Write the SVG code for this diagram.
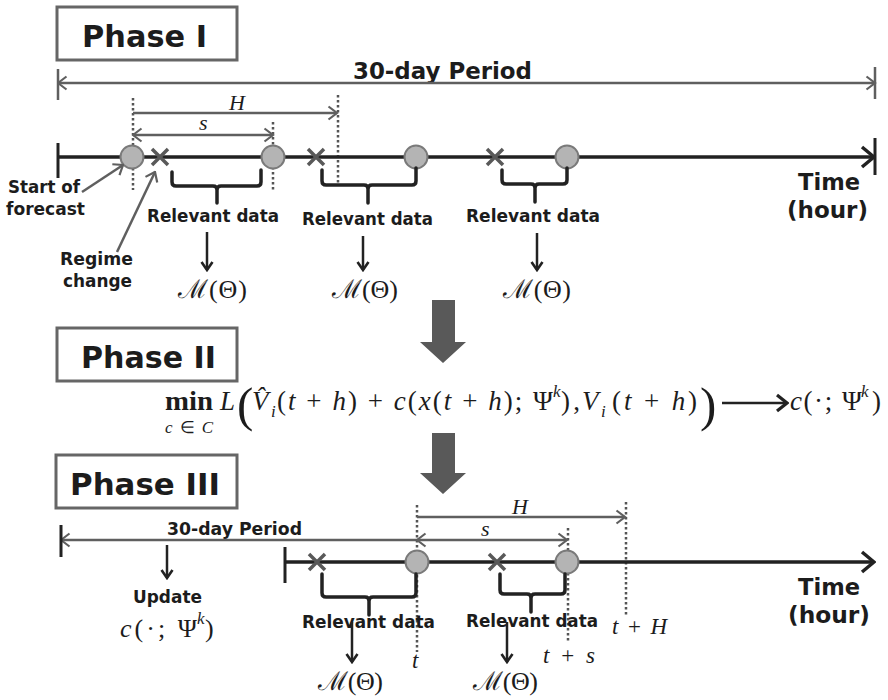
<svg xmlns="http://www.w3.org/2000/svg" width="888" height="700" viewBox="0 0 888 700">
<style>
.b{font-family:"DejaVu Sans",Verdana,sans-serif;font-weight:bold;fill:#1c1c1c}
.m{font-family:"Liberation Serif","Times New Roman",serif;fill:#1c1c1c}
.i{font-style:italic}
.box{fill:#fff;stroke:#666;stroke-width:3}
.gl{stroke:#5f5f5f;stroke-width:2.5;fill:none}
.dot{stroke:#555;stroke-width:2.5;stroke-dasharray:2.5 2.5;fill:none}
.ax{stroke:#222;stroke-width:3.5;fill:none}
.tk{stroke:#222;stroke-width:3;fill:none}
.xm{stroke:#595959;stroke-width:3.5;fill:none}
.cir{fill:#b4b4b4;stroke:#7a7a7a;stroke-width:2}
.br{stroke:#222;stroke-width:3.5;fill:none;stroke-linejoin:round;stroke-linecap:round}
.da{stroke:#222;stroke-width:2.5;fill:none}
.big{fill:#595959}
</style>
<defs>
<marker id="ag" viewBox="0 0 12 16" refX="10.5" refY="8" markerWidth="12" markerHeight="16" markerUnits="userSpaceOnUse" orient="auto-start-reverse"><path d="M2,1.5 L10.5,8 L2,14.5" fill="none" stroke="#5f5f5f" stroke-width="2.2"/></marker>
<marker id="ak" viewBox="0 0 16 24" refX="14" refY="12" markerWidth="16" markerHeight="24" markerUnits="userSpaceOnUse" orient="auto-start-reverse"><path d="M2,2 L14,12 L2,22" fill="none" stroke="#222" stroke-width="3.5"/></marker>
<marker id="ad" viewBox="0 0 12 14" refX="10" refY="7" markerWidth="12" markerHeight="14" markerUnits="userSpaceOnUse" orient="auto-start-reverse"><path d="M2,1.5 L10,7 L2,12.5" fill="none" stroke="#222" stroke-width="2.6"/></marker>
<marker id="af" viewBox="0 0 14 20" refX="12" refY="10" markerWidth="14" markerHeight="20" markerUnits="userSpaceOnUse" orient="auto-start-reverse"><path d="M2,2 L12,10 L2,18" fill="none" stroke="#222" stroke-width="3.2"/></marker>
</defs>

<!-- Phase boxes -->
<g id="phase1-box"><rect class="box" x="57" y="7" width="180" height="53"/><text class="b" x="82" y="47" font-size="30" textLength="125" lengthAdjust="spacingAndGlyphs">Phase I</text></g>
<g id="phase2-box"><rect class="box" x="57" y="328" width="180" height="53"/><text class="b" x="81" y="368" font-size="30" textLength="135" lengthAdjust="spacingAndGlyphs">Phase II</text></g>
<g id="phase3-box"><rect class="box" x="56" y="455" width="181" height="53"/><text class="b" x="70" y="495" font-size="30" textLength="150" lengthAdjust="spacingAndGlyphs">Phase III</text></g>

<!-- Phase I timeline -->
<g id="phase1-timeline">
<text class="b" x="353" y="79" font-size="23" textLength="179" lengthAdjust="spacingAndGlyphs">30-day Period</text>
<line class="gl" x1="58" y1="83" x2="875" y2="83" marker-start="url(#ag)" marker-end="url(#ag)"/>
<line class="gl" x1="58" y1="69" x2="58" y2="100"/>
<line class="gl" x1="875" y1="67" x2="875" y2="99"/>
<line class="dot" x1="133" y1="98" x2="133" y2="190"/>
<line class="dot" x1="273" y1="122" x2="273" y2="190"/>
<line class="dot" x1="338" y1="95" x2="338" y2="183"/>
<line class="gl" x1="133" y1="113" x2="337" y2="113" marker-end="url(#ag)"/>
<line class="gl" x1="133" y1="135" x2="273" y2="135" marker-start="url(#ag)" marker-end="url(#ag)"/>
<text class="m i" x="229" y="110" font-size="22">H</text>
<text class="m i" x="199" y="130" font-size="22">s</text>
<line class="ax" x1="58" y1="157" x2="874" y2="157" marker-end="url(#ak)"/>
<line class="tk" x1="58" y1="143" x2="58" y2="178"/>
<line class="tk" x1="875" y1="138" x2="875" y2="175"/>
<path class="xm" d="M152,149 L168,165 M168,149 L152,165"/>
<path class="xm" d="M308,149 L324,165 M324,149 L308,165"/>
<path class="xm" d="M487,149 L503,165 M503,149 L487,165"/>
<circle class="cir" cx="132" cy="157" r="11.5"/>
<circle class="cir" cx="273" cy="157" r="11.5"/>
<circle class="cir" cx="416" cy="157" r="11.5"/>
<circle class="cir" cx="567" cy="157" r="11.5"/>
<path class="br" d="M172,172 V182 Q172,186 176,186 H213 Q217,186 217,190 V203 M217,190 Q217,186 221,186 H257 Q261,186 261,182 V170"/>
<path class="br" d="M322,170 V181 Q322,185 326,185 H364 Q368,185 368,189 V203 M368,189 Q368,185 372,185 H412 Q416,185 416,181 V168"/>
<path class="br" d="M502,170 V180 Q502,184 506,184 H531 Q535,184 535,188 V202 M535,188 Q535,184 539,184 H563 Q567,184 567,180 V168"/>
<text class="b" x="147" y="222" font-size="18" textLength="132" lengthAdjust="spacingAndGlyphs">Relevant data</text>
<text class="b" x="302" y="225" font-size="18" textLength="131" lengthAdjust="spacingAndGlyphs">Relevant data</text>
<text class="b" x="466" y="222" font-size="18" textLength="134" lengthAdjust="spacingAndGlyphs">Relevant data</text>
<text class="m" x="178" y="298" font-size="26" textLength="69" lengthAdjust="spacing">ℳ(Θ)</text>
<text class="m" x="332" y="298" font-size="26" textLength="66" lengthAdjust="spacing">ℳ(Θ)</text>
<text class="m" x="503" y="298" font-size="26" textLength="68" lengthAdjust="spacing">ℳ(Θ)</text>
<text class="b" x="8" y="193" font-size="18" textLength="72" lengthAdjust="spacingAndGlyphs">Start of</text>
<text class="b" x="6" y="215" font-size="18" textLength="79" lengthAdjust="spacingAndGlyphs">forecast</text>
<text class="b" x="60" y="265" font-size="18" textLength="73" lengthAdjust="spacingAndGlyphs">Regime</text>
<text class="b" x="63" y="287" font-size="18" textLength="69" lengthAdjust="spacingAndGlyphs">change</text>
<text class="b" x="798" y="190" font-size="23" textLength="62" lengthAdjust="spacingAndGlyphs">Time</text>
<text class="b" x="787" y="218" font-size="23" textLength="81" lengthAdjust="spacingAndGlyphs">(hour)</text>
</g>

<!-- Phase II formula -->
<g id="phase2-formula">
<text class="m" x="165" y="410" font-size="27" font-weight="bold" textLength="48" lengthAdjust="spacingAndGlyphs">min</text>
<text class="m" x="165" y="433" font-size="17" textLength="48" lengthAdjust="spacing"><tspan class="i">c</tspan> ∈ <tspan class="i">C</tspan></text>
<text class="m i" x="220" y="410" font-size="27">L</text>
<text class="m" x="237" y="421" font-size="49">(</text>
<text class="m i" x="252" y="410" font-size="27">V&#x302;</text>
<text class="m i" x="271" y="417" font-size="17">i</text>
<text class="m" x="277" y="410" font-size="27" textLength="276" lengthAdjust="spacing">(<tspan class="i">t</tspan> + <tspan class="i">h</tspan>) + <tspan class="i">c</tspan>(<tspan class="i">x</tspan>(<tspan class="i">t</tspan> + <tspan class="i">h</tspan>); Ψ</text>
<text class="m i" x="553" y="397" font-size="17">k</text>
<text class="m" x="561" y="410" font-size="27" textLength="19" lengthAdjust="spacing">),</text>
<text class="m i" x="582" y="410" font-size="27">V</text>
<text class="m i" x="601" y="417" font-size="17">i</text>
<text class="m" x="612" y="410" font-size="27" textLength="85" lengthAdjust="spacing">(<tspan class="i">t</tspan> + <tspan class="i">h</tspan>)</text>
<text class="m" x="700" y="421" font-size="49">)</text>
<text class="m" x="790" y="410" font-size="27" textLength="72" lengthAdjust="spacing"><tspan class="i">c</tspan>(·; Ψ</text>
<text class="m i" x="861" y="397" font-size="17">k</text>
<text class="m" x="872" y="410" font-size="27">)</text>
</g>

<!-- Phase III timeline -->
<g id="phase3-timeline">
<text class="b" x="167" y="535" font-size="17.5" textLength="135" lengthAdjust="spacingAndGlyphs">30-day Period</text>
<line class="gl" x1="61" y1="540" x2="417" y2="540" marker-start="url(#ag)"/>
<line class="tk" x1="61" y1="525" x2="61" y2="557"/>
<line class="dot" x1="417" y1="505" x2="417" y2="652"/>
<line class="dot" x1="568" y1="528" x2="568" y2="642"/>
<line class="dot" x1="626" y1="502" x2="626" y2="615"/>
<line class="gl" x1="417" y1="517" x2="625" y2="517" marker-end="url(#ag)"/>
<line class="gl" x1="417" y1="540" x2="567" y2="540" marker-start="url(#ag)" marker-end="url(#ag)"/>
<text class="m i" x="512" y="514" font-size="22">H</text>
<text class="m i" x="481" y="536" font-size="22">s</text>
<line class="ax" x1="285" y1="562" x2="874" y2="562" marker-end="url(#ak)"/>
<line class="tk" x1="285" y1="547" x2="285" y2="583"/>
<path class="xm" d="M309,554 L325,570 M325,554 L309,570"/>
<path class="xm" d="M489,554 L505,570 M505,554 L489,570"/>
<circle class="cir" cx="417" cy="562" r="11.5"/>
<circle class="cir" cx="567" cy="562" r="11.5"/>
<path class="br" d="M322,574 V593 Q322,597 326,597 H365 Q369,597 369,601 V615 M369,601 Q369,597 373,597 H412 Q416,597 416,593 V574"/>
<path class="br" d="M500,574 V590 Q500,594 504,594 H527 Q531,594 531,598 V612 M531,598 Q531,594 535,594 H561 Q565,594 565,590 V574"/>
<text class="b" x="302" y="628" font-size="18" textLength="133" lengthAdjust="spacingAndGlyphs">Relevant data</text>
<text class="b" x="466" y="627" font-size="18" textLength="132" lengthAdjust="spacingAndGlyphs">Relevant data</text>
<text class="m i" x="412" y="668" font-size="23">t</text>
<text class="m" x="612" y="634" font-size="23" textLength="55" lengthAdjust="spacing"><tspan class="i">t</tspan> + <tspan class="i">H</tspan></text>
<text class="m" x="543" y="663" font-size="23" textLength="52" lengthAdjust="spacing"><tspan class="i">t</tspan> + <tspan class="i">s</tspan></text>
<text class="m" x="318" y="690" font-size="26" textLength="65" lengthAdjust="spacing">ℳ(Θ)</text>
<text class="m" x="473" y="690" font-size="26" textLength="65" lengthAdjust="spacing">ℳ(Θ)</text>
<text class="b" x="133" y="603" font-size="17" textLength="69" lengthAdjust="spacingAndGlyphs">Update</text>
<text class="m" x="120" y="637" font-size="26" textLength="77" lengthAdjust="spacing"><tspan class="i">c</tspan>(·; Ψ</text>
<text class="m i" x="197" y="624" font-size="17">k</text>
<text class="m" x="205" y="637" font-size="26">)</text>
<text class="b" x="798" y="595" font-size="23" textLength="62" lengthAdjust="spacingAndGlyphs">Time</text>
<text class="b" x="788" y="623" font-size="23" textLength="82" lengthAdjust="spacingAndGlyphs">(hour)</text>
</g>

<!-- Connectors -->
<g id="connectors">
<line class="gl" x1="82" y1="192" x2="123" y2="165" marker-end="url(#ag)"/>
<line class="gl" x1="117" y1="252" x2="155" y2="172" marker-end="url(#ag)"/>
<line class="da" x1="207" y1="232" x2="207" y2="270" marker-end="url(#ad)"/>
<line class="da" x1="363" y1="236" x2="363" y2="270" marker-end="url(#ad)"/>
<line class="da" x1="537" y1="233" x2="537" y2="270" marker-end="url(#ad)"/>
<polygon class="big" points="432,300 455,300 455,342 466,342 443,363 420,342 432,342"/>
<line class="da" x1="722" y1="403" x2="787" y2="403" stroke-width="3" marker-end="url(#af)"/>
<polygon class="big" points="432,433 455,433 455,473 466,473 443,494 420,473 432,473"/>
<line class="da" x1="167" y1="545" x2="167" y2="578" marker-end="url(#ad)"/>
<line class="da" x1="352" y1="622" x2="352" y2="662" marker-end="url(#ad)"/>
<line class="da" x1="507" y1="622" x2="507" y2="662" marker-end="url(#ad)"/>
</g>
</svg>
